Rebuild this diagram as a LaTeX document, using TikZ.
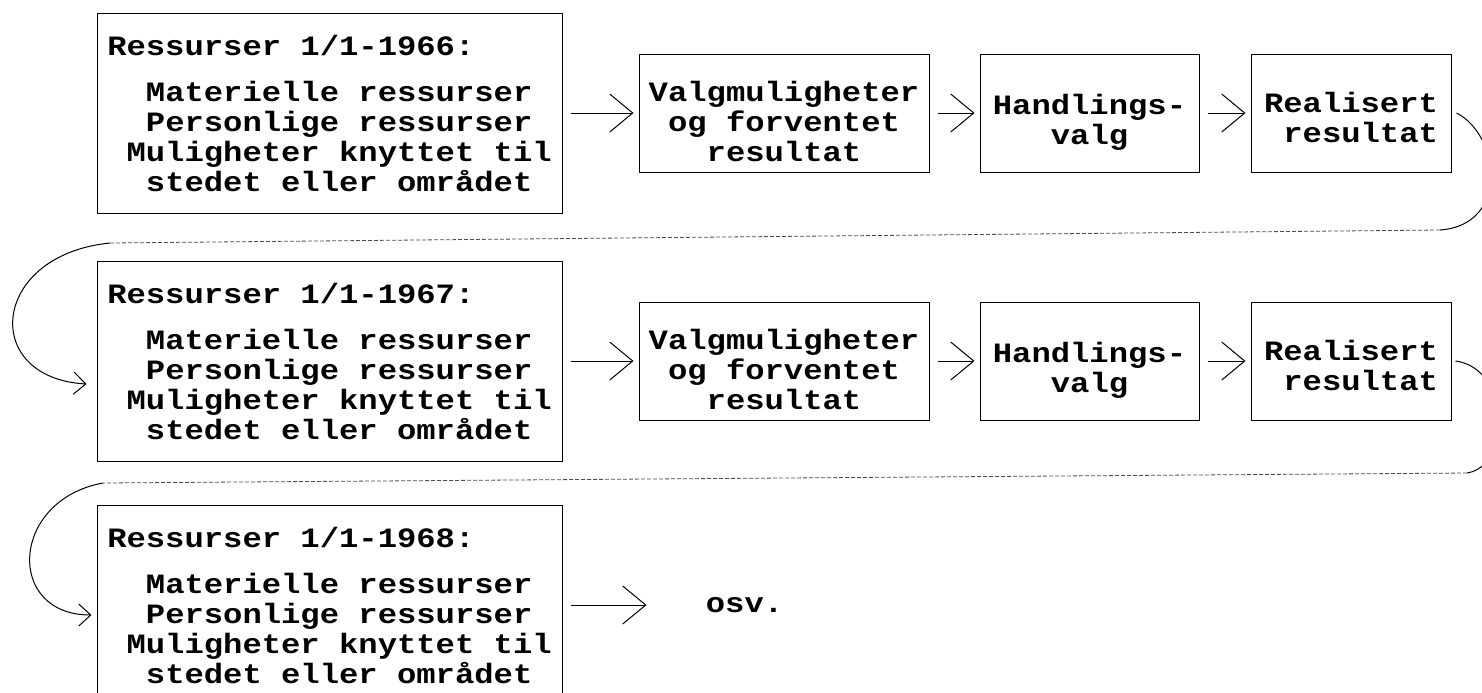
\documentclass[tikz,border=0pt]{standalone}
\usepackage{fontspec}
\newfontfamily\typewriterfont{Liberation Mono}[FakeStretch=1.15]
\usepackage{tikz}
\usetikzlibrary{positioning, calc, arrows.meta}
\newcommand{\tw}{\typewriterfont\bfseries\fontsize{14pt}{15pt}\selectfont}
\newcommand{\ind}[1]{\phantom{#1}}
\newcommand{\ressurstekst}[1]{Ressurser 1/1-#1:\\[8pt]\ind{xx}Materielle ressurser\\\ind{xx}Personlige ressurser\\\ind{x}Muligheter knyttet til\\\ind{xx}stedet eller området}

\begin{document}
\begin{tikzpicture}[
    x=0.5pt, y=-0.5pt,
    font=\tw,
    box/.style={draw, line width=0.5pt, inner sep=0pt},
    resbox/.style={box, minimum width=232.5pt, align=left, text height=89pt, text depth=11pt},
    valgbox/.style={box, minimum width=145pt, align=center, text height=53.5pt, text depth=5.5pt},
    handbox/.style={box, minimum width=109.5pt, align=center, text height=45pt, text depth=14pt},
    realbox/.style={box, minimum width=100pt, align=left, text height=44pt, text depth=15pt},
    flow/.style={line width=0.5pt, shorten <=4pt, shorten >=2.5pt, -{Straight Barb[length=11.5pt, width=19pt]}},
    typed/.style={line width=0.4pt, black!70, dash pattern=on 2pt off 1pt},
    hand/.style={line width=0.5pt},
  ]
    \useasboundingbox (0,0) rectangle (1482,692);

    \node[resbox] (R1) at (329.5,113) {\ressurstekst{1966}};
    \node[valgbox, right=38pt of R1] (V1) {Valgmuligheter\\og forventet\\resultat};
    \node[handbox, right=25pt of V1] (H1) {Handlings-\\valg};
    \node[realbox, right=25.5pt of H1] (RR1) {Realisert\\\ind{x}resultat};

    \node[resbox, below=23.5pt of R1] (R2) {\ressurstekst{1967}};
    \node[valgbox, right=38pt of R2] (V2) {Valgmuligheter\\og forventet\\resultat};
    \node[handbox, right=25pt of V2] (H2) {Handlings-\\valg};
    \node[realbox, right=25.5pt of H2] (RR2) {Realisert\\\ind{x}resultat};

    \node[resbox, below=21.5pt of R2] (R3) {\ressurstekst{1968}};
    \node[inner sep=0pt, right=71.5pt of R3] (osv) {osv.};

    \draw[flow] (R1) -- (V1);
    \draw[flow] (V1) -- (H1);
    \draw[flow] (H1) -- (RR1);
    \draw[flow] (R2) -- (V2);
    \draw[flow] (V2) -- (H2);
    \draw[flow] (H2) -- (RR2);
    \draw[flow, shorten >=29.5pt] (R3) -- (osv);

    \coordinate (T1r) at (1440,230);
    \coordinate (T1l) at (110,243);
    \draw[hand] ([xshift=2.5pt]RR1.east) .. controls (1500,135) and (1510,225) .. (T1r);
    \draw[typed] (T1r) -- (T1l);
    \draw[hand, -{Straight Barb[length=6pt, width=11pt]}] (T1l) .. controls (-10,255) and (-20,378) .. ([shift={(-5pt,-11.5pt)}]R2.west);

    \coordinate (T2r) at (1467,473);
    \coordinate (T2l) at (103,483);
    \draw[hand] ([xshift=2pt]RR2.east) .. controls (1510,368) and (1512,466) .. (T2r);
    \draw[typed] (T2r) -- (T2l);
    \draw[hand, -{Straight Barb[length=6pt, width=11pt]}] (T2l) .. controls (10,500) and (5,615) .. ([shift={(-2.5pt,-5pt)}]R3.west);
  \end{tikzpicture}
\end{document}
